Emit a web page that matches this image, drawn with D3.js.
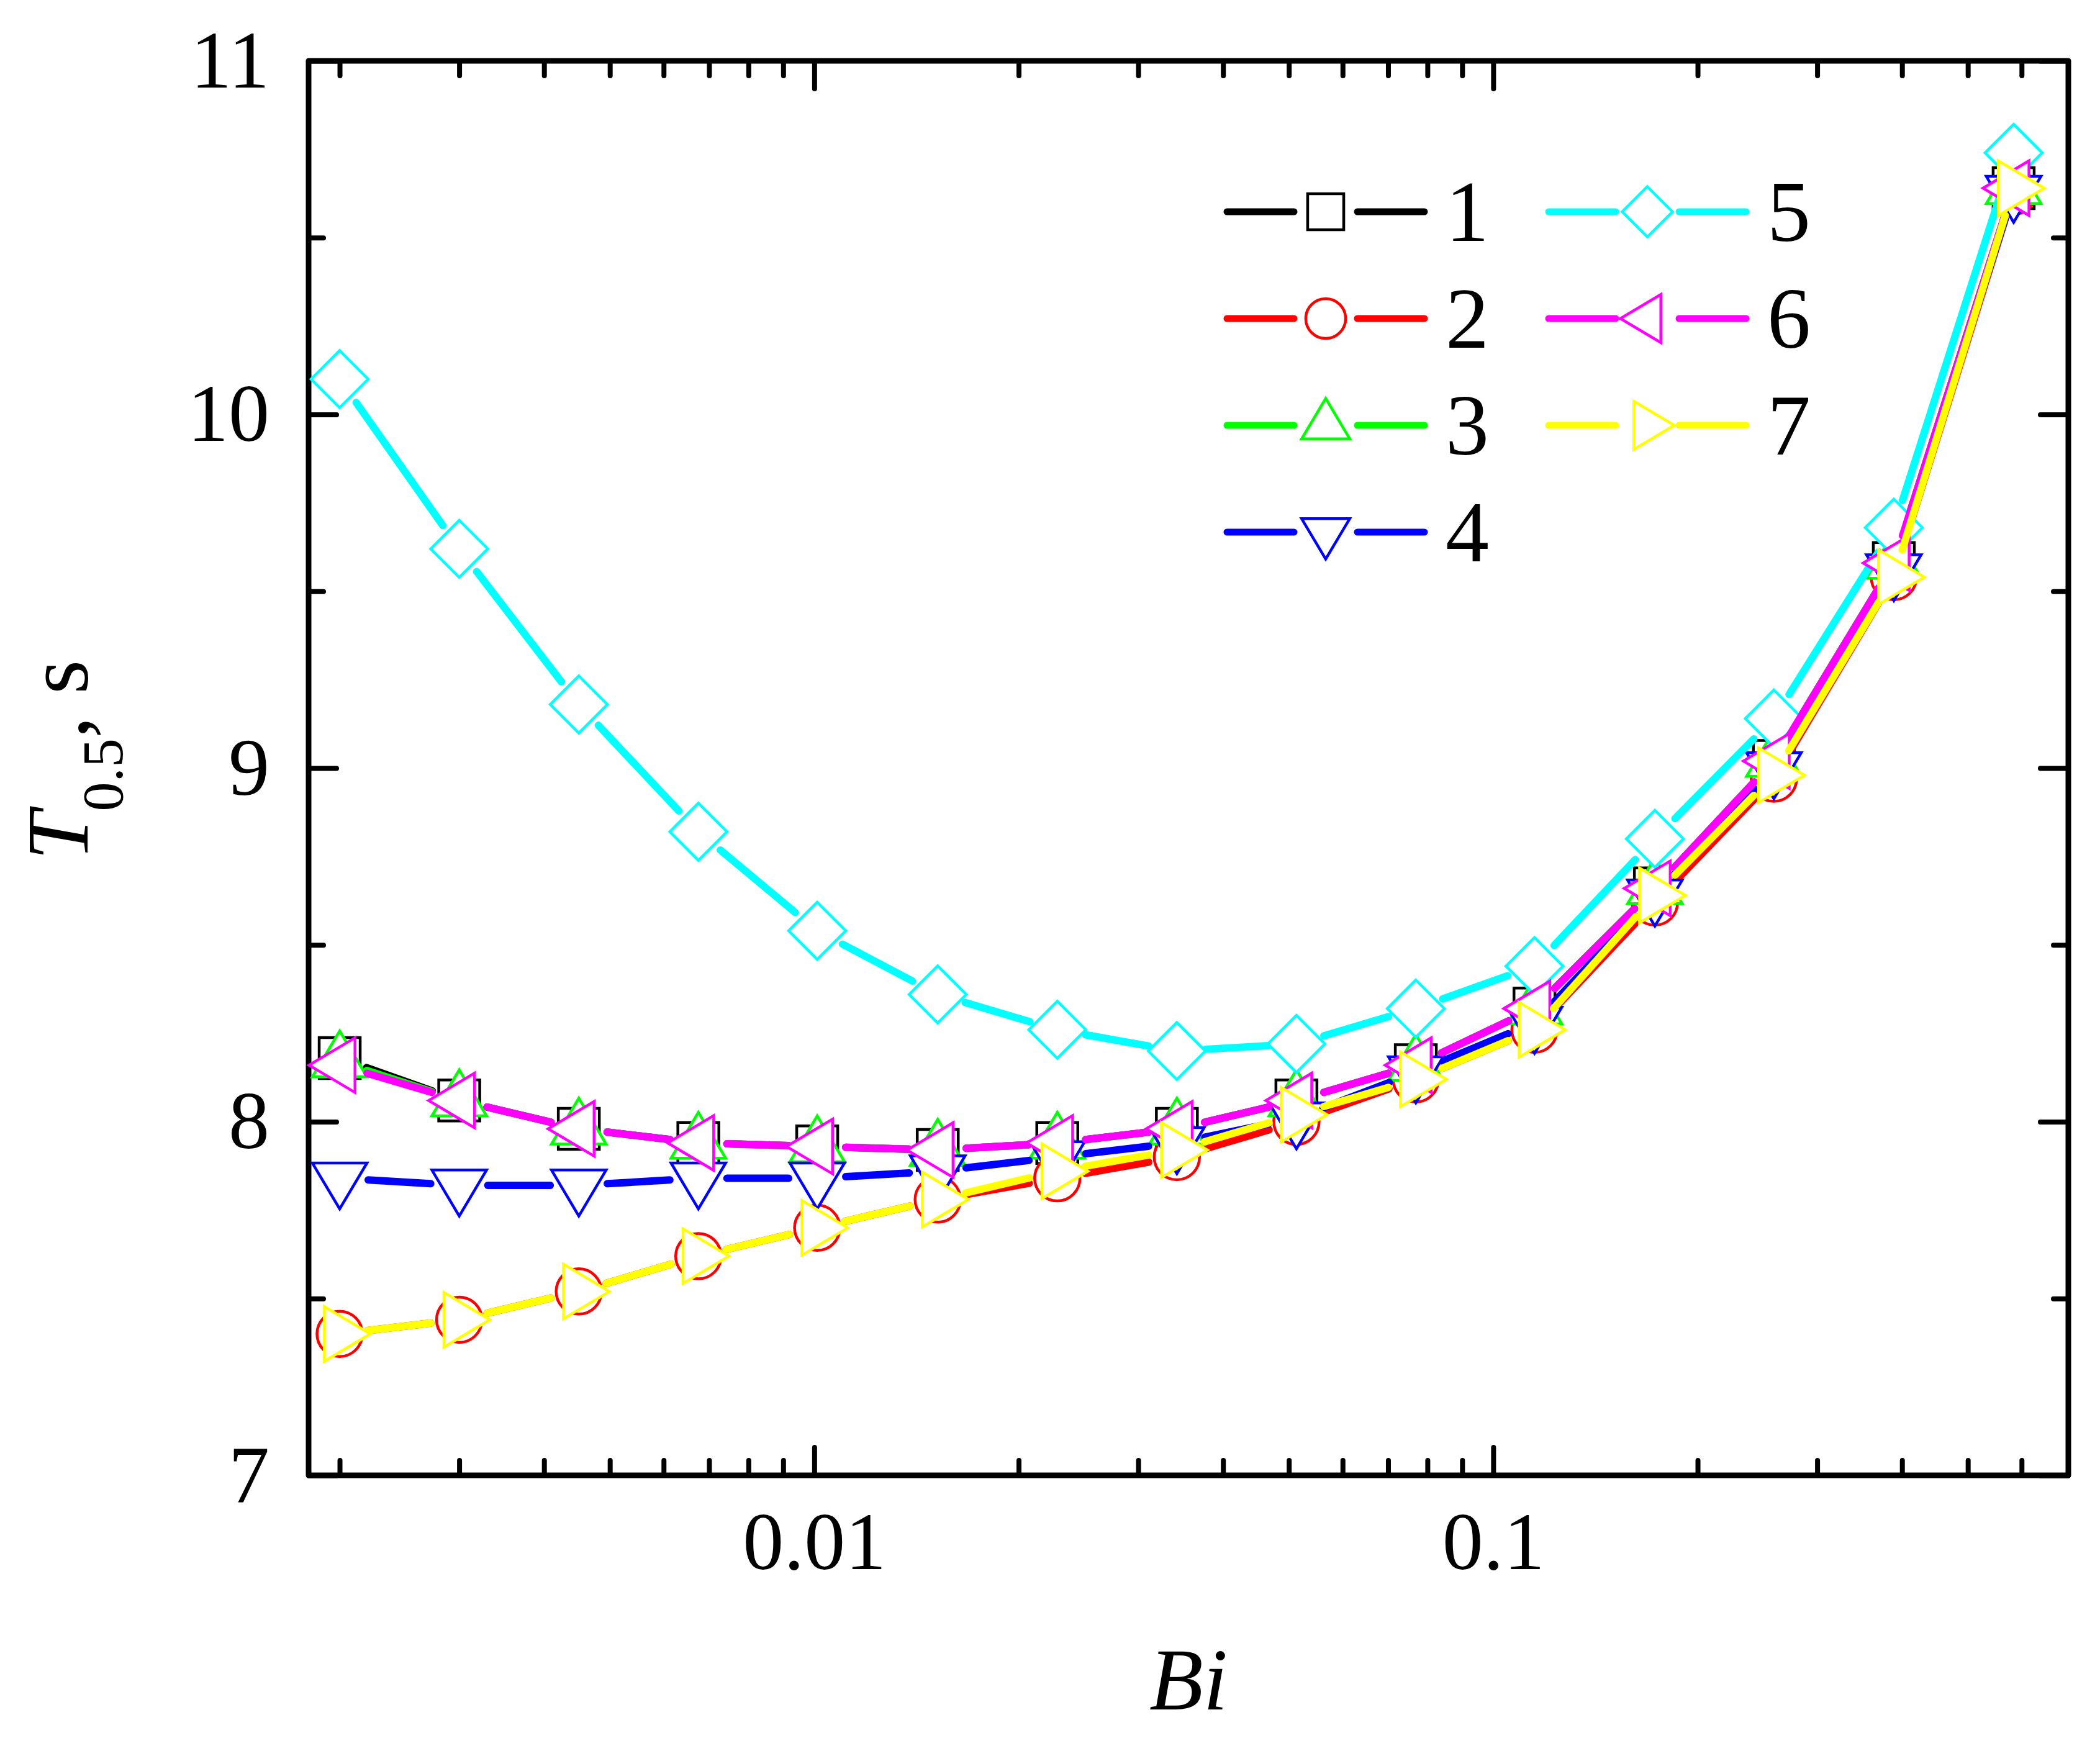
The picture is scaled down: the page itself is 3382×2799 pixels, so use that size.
<!DOCTYPE html>
<html>
<head>
<meta charset="utf-8">
<script src="https://cdn.jsdelivr.net/npm/d3@7"></script>
<style>
  body { margin: 0; background: #fff; }
  svg { display: block; }
  text { font-family: "Liberation Serif", "Times New Roman", Times, serif; }
</style>
</head>
<body>
<script>
var WIDTH = 3382;
var HEIGHT = 2799;

// Bi values (x) and T0.5 in seconds for each curve
var biValues = [0.002, 0.003, 0.0045, 0.00675, 0.0101, 0.0152, 0.0228, 0.0342, 0.0513, 0.0769, 0.115, 0.173, 0.259, 0.389, 0.584];

var curve1 = [8.18, 8.06, 7.98, 7.94, 7.93, 7.92, 7.94, 7.98, 8.06, 8.16, 8.32, 8.66, 9.02, 9.58, 10.64];
var curve2 = [7.40, 7.44, 7.52, 7.62, 7.70, 7.78, 7.84, 7.90, 8.00, 8.12, 8.26, 8.62, 8.97, 9.54, 10.63];
var curve3 = [8.17, 8.06, 7.98, 7.94, 7.93, 7.92, 7.94, 7.98, 8.06, 8.16, 8.32, 8.66, 9.02, 9.58, 10.64];
var curve4 = [7.84, 7.82, 7.82, 7.84, 7.84, 7.86, 7.90, 7.94, 8.01, 8.14, 8.28, 8.64, 9.00, 9.56, 10.63];
var curve5 = [10.10, 9.62, 9.18, 8.82, 8.54, 8.36, 8.26, 8.20, 8.22, 8.32, 8.44, 8.80, 9.14, 9.68, 10.74];
var curve6 = [8.16, 8.06, 7.98, 7.94, 7.93, 7.92, 7.94, 7.98, 8.06, 8.16, 8.32, 8.66, 9.02, 9.58, 10.64];
var curve7 = [7.40, 7.44, 7.52, 7.62, 7.70, 7.78, 7.86, 7.92, 8.02, 8.12, 8.26, 8.64, 8.98, 9.54, 10.64];

var curveNames = ["1", "2", "3", "4", "5", "6", "7"];
var curveColors = ["#000000", "#ff0000", "#00ff00", "#0000ff", "#00ffff", "#ff00ff", "#ffff00"];
var curveSymbols = ["square", "circle", "up", "down", "diamond", "left", "right"];

var xMajorTicks = [0.01, 0.1];
var xMinorTicks = [0.002, 0.003, 0.004, 0.005, 0.006, 0.007, 0.008, 0.009,
                   0.02, 0.03, 0.04, 0.05, 0.06, 0.07, 0.08, 0.09,
                   0.2, 0.3, 0.4, 0.5, 0.6];
var yMajorTicks = [7, 8, 9, 10, 11];
var yMinorTicks = [7.5, 8.5, 9.5, 10.5];

var xDomain = [0.0018, 0.703];
var yDomain = [7, 11];

var LEFT = 497, RIGHT = 3331, TOP = 98, BOTTOM = 2376;
var SERIF = '"Liberation Serif", "Times New Roman", Times, serif';

var svg = d3.select("body")
  .append("svg")
  .attr("width", WIDTH)
  .attr("height", HEIGHT);

var x = d3.scaleLog().domain(xDomain).range([LEFT, RIGHT]);
var y = d3.scaleLinear().domain(yDomain).range([BOTTOM, TOP]);

// marker path, centred like Origin does (triangles on their centroid)
function symbolPath(kind, s) {
  s = s || 1;
  if (kind == "square") {
    let h = 33 * s;
    return "M" + (-h) + "," + (-h) + "H" + h + "V" + h + "H" + (-h) + "Z";
  }
  if (kind == "circle") {
    let r = 36.5 * s;
    return "M" + r + ",0A" + r + "," + r + " 0 1,1 " + (-r) + ",0A" + r + "," + r + " 0 1,1 " + r + ",0Z";
  }
  if (kind == "diamond") {
    let d = 46 * s;
    return "M0," + (-d) + "L" + d + ",0L0," + d + "L" + (-d) + ",0Z";
  }
  let w = 44 * s, hh = 74 * s;
  let a = 2 * hh / 3, b = hh / 3;
  if (kind == "up") return "M0," + (-a) + "L" + w + "," + b + "L" + (-w) + "," + b + "Z";
  if (kind == "down") return "M0," + a + "L" + w + "," + (-b) + "L" + (-w) + "," + (-b) + "Z";
  if (kind == "left") return "M" + (-a) + ",0L" + b + "," + (-w) + "L" + b + "," + w + "Z";
  if (kind == "right") return "M" + a + ",0L" + (-b) + "," + (-w) + "L" + (-b) + "," + w + "Z";
}

// axes
function styleAxis(g) {
  g.select(".domain").remove();
  g.selectAll(".tick line")
    .attr("stroke", "#000")
    .attr("stroke-width", 8)
    .attr("stroke-linecap", "round");
  g.selectAll(".tick text")
    .attr("fill", "#000")
    .attr("font-family", SERIF)
    .attr("font-size", 132);
}

svg.append("g").attr("transform", "translate(0," + BOTTOM + ")")
  .call(d3.axisBottom(x).tickValues(xMajorTicks).tickSize(-45).tickPadding(57)
    .tickFormat(function (d) { return d == 0.01 ? "0.01" : "0.1"; }))
  .call(styleAxis);
svg.append("g").attr("transform", "translate(0," + BOTTOM + ")")
  .call(d3.axisBottom(x).tickValues(xMinorTicks).tickSize(-24).tickFormat(""))
  .call(styleAxis);
svg.append("g").attr("transform", "translate(0," + TOP + ")")
  .call(d3.axisTop(x).tickValues(xMajorTicks).tickSize(-45).tickFormat(""))
  .call(styleAxis);
svg.append("g").attr("transform", "translate(0," + TOP + ")")
  .call(d3.axisTop(x).tickValues(xMinorTicks).tickSize(-24).tickFormat(""))
  .call(styleAxis);

svg.append("g").attr("transform", "translate(" + LEFT + ",0)")
  .call(d3.axisLeft(y).tickValues(yMajorTicks).tickSize(-45).tickPadding(63).tickFormat(d3.format("d")))
  .call(styleAxis);
svg.append("g").attr("transform", "translate(" + LEFT + ",0)")
  .call(d3.axisLeft(y).tickValues(yMinorTicks).tickSize(-24).tickFormat(""))
  .call(styleAxis);
svg.append("g").attr("transform", "translate(" + RIGHT + ",0)")
  .call(d3.axisRight(y).tickValues(yMajorTicks).tickSize(-45).tickFormat(""))
  .call(styleAxis);
svg.append("g").attr("transform", "translate(" + RIGHT + ",0)")
  .call(d3.axisRight(y).tickValues(yMinorTicks).tickSize(-24).tickFormat(""))
  .call(styleAxis);

// frame
svg.append("rect")
  .attr("x", LEFT).attr("y", TOP)
  .attr("width", RIGHT - LEFT).attr("height", BOTTOM - TOP)
  .attr("fill", "none")
  .attr("stroke", "#000")
  .attr("stroke-width", 9)
  .attr("stroke-linejoin", "round");

// curves: line segments with a gap round each symbol, then the symbols
var curves = [curve1, curve2, curve3, curve4, curve5, curve6, curve7];
var GAP = 46;

var plot = svg.append("g");

curves.forEach(function (vals, k) {
  let pts = vals.map(function (v, i) { return [x(biValues[i]), y(v)]; });
  let segs = [];
  for (let i = 0; i < pts.length - 1; i++) {
    let p = pts[i], q = pts[i + 1];
    let dx = q[0] - p[0], dy = q[1] - p[1];
    let len = Math.sqrt(dx * dx + dy * dy);
    if (len <= 2 * GAP) continue;
    let ux = dx / len, uy = dy / len;
    segs.push([p[0] + ux * GAP, p[1] + uy * GAP, q[0] - ux * GAP, q[1] - uy * GAP]);
  }
  let g = plot.append("g");
  g.selectAll("line")
    .data(segs)
    .enter()
    .append("line")
    .attr("x1", function (d) { return d[0]; })
    .attr("y1", function (d) { return d[1]; })
    .attr("x2", function (d) { return d[2]; })
    .attr("y2", function (d) { return d[3]; })
    .attr("stroke", curveColors[k])
    .attr("stroke-width", 12)
    .attr("stroke-linecap", "round");

  g.selectAll("path")
    .data(pts)
    .enter()
    .append("path")
    .attr("transform", function (d) { return "translate(" + d[0] + "," + d[1] + ")"; })
    .attr("d", symbolPath(curveSymbols[k]))
    .attr("fill", "#fff")
    .attr("stroke", curveColors[k])
    .attr("stroke-width", 4.5)
    .attr("stroke-linejoin", "miter");
});

// legend, two columns
var legendCols = [1976, 2494];
var legendRows = [341, 513, 685, 857];
var legend = svg.append("g");

curveNames.forEach(function (name, k) {
  let cx = legendCols[k < 4 ? 0 : 1];
  let cy = legendRows[k < 4 ? k : k - 4];
  let item = legend.append("g").attr("transform", "translate(" + cx + "," + cy + ")");
  item.append("line").attr("x1", 0).attr("x2", 108).attr("y1", 0).attr("y2", 0)
    .attr("stroke", curveColors[k]).attr("stroke-width", 11).attr("stroke-linecap", "round");
  item.append("line").attr("x1", 210).attr("x2", 318).attr("y1", 0).attr("y2", 0)
    .attr("stroke", curveColors[k]).attr("stroke-width", 11).attr("stroke-linecap", "round");
  item.append("path")
    .attr("transform", "translate(159,0)")
    .attr("d", symbolPath(curveSymbols[k], 0.88))
    .attr("fill", "#fff")
    .attr("stroke", curveColors[k])
    .attr("stroke-width", 4.5);
  item.append("text")
    .attr("x", 352).attr("y", 47)
    .attr("font-family", SERIF)
    .attr("font-size", 140)
    .text(name);
});

// axis titles
svg.append("text")
  .attr("x", (LEFT + RIGHT) / 2)
  .attr("y", 2753)
  .attr("text-anchor", "middle")
  .attr("font-family", SERIF)
  .attr("font-size", 142)
  .attr("font-style", "italic")
  .text("Bi");

var yTitle = svg.append("text")
  .attr("transform", "translate(141,1224) rotate(-90)")
  .attr("text-anchor", "middle")
  .attr("font-family", SERIF)
  .attr("font-size", 142);
yTitle.append("tspan").attr("font-style", "italic").text("T");
yTitle.append("tspan").attr("dy", 56).attr("font-size", 94).text("0.5");
yTitle.append("tspan").attr("dy", -56).text(", s");
</script>
</body>
</html>
